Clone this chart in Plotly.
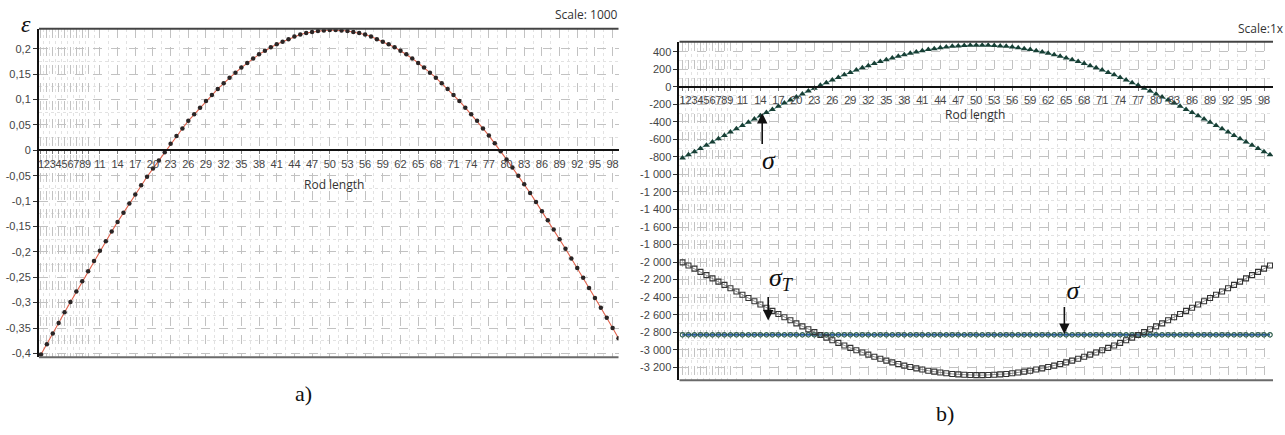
import plotly.graph_objects as go

# ---------------------------------------------------------------- data
rod_points = list(range(1, 100))

x_tick_labels = ["1", "2", "3", "4", "5", "6", "7", "8", "9", "11", "14", "17", "20",
                 "23", "26", "29", "32", "35", "38", "41", "44", "47", "50", "53", "56",
                 "59", "62", "65", "68", "71", "74", "77", "80", "83", "86", "89", "92",
                 "95", "98"]
x_tick_values = [int(t) for t in x_tick_labels]

# strain along the rod (scale 1000)
strain = [
    -0.402, -0.382, -0.361, -0.340, -0.319, -0.299, -0.278, -0.258, -0.238, -0.218,
    -0.198, -0.179, -0.160, -0.141, -0.123, -0.105, -0.087, -0.069, -0.052, -0.036,
    -0.020, -0.004, 0.013, 0.028, 0.043, 0.058, 0.071, 0.084, 0.097, 0.109,
    0.121, 0.132, 0.143, 0.153, 0.163, 0.172, 0.181, 0.189, 0.196, 0.203,
    0.209, 0.214, 0.219, 0.224, 0.228, 0.231, 0.233, 0.235, 0.236, 0.237,
    0.237, 0.236, 0.235, 0.233, 0.231, 0.228, 0.224, 0.219, 0.214, 0.209,
    0.203, 0.196, 0.189, 0.181, 0.172, 0.163, 0.153, 0.143, 0.132, 0.121,
    0.109, 0.097, 0.084, 0.071, 0.058, 0.043, 0.029, 0.014, -0.002, -0.018,
    -0.034, -0.050, -0.067, -0.084, -0.102, -0.120, -0.138, -0.156, -0.175, -0.194,
    -0.213, -0.232, -0.251, -0.271, -0.291, -0.310, -0.330, -0.350, -0.370,
]
strain_tick_values = [0.2, 0.15, 0.1, 0.05, 0, -0.05, -0.1, -0.15, -0.2, -0.25, -0.3, -0.35, -0.4]
strain_tick_labels = ["0,2", "0,15", "0,1", "0,05", "0", "-0,05", "-0,1", "-0,15", "-0,2",
                      "-0,25", "-0,3", "-0,35", "-0,4"]

# stress sigma
stress = [
    -812, -776, -740, -703, -666, -629, -592, -555, -517, -480,
    -442, -405, -368, -331, -294, -258, -222, -186, -151, -116,
    -82, -49, -16, 16, 47, 77, 107, 136, 164, 191,
    216, 241, 265, 287, 309, 329, 348, 366, 382, 398,
    411, 424, 435, 445, 454, 461, 466, 471, 473, 475,
    475, 473, 471, 466, 461, 454, 445, 435, 424, 411,
    398, 382, 366, 348, 329, 309, 287, 265, 241, 216,
    191, 164, 136, 107, 77, 47, 16, -16, -49, -82,
    -116, -151, -186, -222, -258, -294, -331, -368, -405, -442,
    -480, -517, -555, -592, -629, -666, -703, -740, -776,
]

# temperature stress sigma_T
stress_t = [
    -2003, -2039, -2075, -2112, -2149, -2186, -2223, -2260, -2298, -2335,
    -2373, -2410, -2447, -2484, -2521, -2557, -2593, -2629, -2664, -2699,
    -2733, -2766, -2799, -2831, -2862, -2892, -2922, -2951, -2979, -3006,
    -3031, -3056, -3080, -3102, -3124, -3144, -3163, -3181, -3197, -3213,
    -3226, -3239, -3250, -3260, -3269, -3276, -3281, -3286, -3288, -3290,
    -3290, -3288, -3286, -3281, -3276, -3269, -3260, -3250, -3239, -3226,
    -3213, -3197, -3181, -3163, -3144, -3124, -3102, -3080, -3056, -3031,
    -3006, -2979, -2951, -2922, -2892, -2862, -2831, -2799, -2766, -2733,
    -2699, -2664, -2629, -2593, -2557, -2521, -2484, -2447, -2410, -2373,
    -2335, -2298, -2260, -2223, -2186, -2149, -2112, -2075, -2039,
]

# constant stress level
stress_level = -2830
stress_level_series = [stress_level] * len(rod_points)

stress_tick_values = [400, 200, 0, -200, -400, -600, -800, -1000, -1200, -1400, -1600,
                      -1800, -2000, -2200, -2400, -2600, -2800, -3000, -3200]
stress_tick_labels = ["400", "200", "0", "-200", "-400", "-600", "-800", "-1 000", "-1 200",
                      "-1 400", "-1 600", "-1 800", "-2 000", "-2 200", "-2 400", "-2 600",
                      "-2 800", "-3 000", "-3 200"]

# ---------------------------------------------------------------- layout helpers
W, H = 1285, 435


def px(x):
    return x / W


def py(y):
    return 1 - y / H


def midpoints(vals):
    s = sorted(vals)
    return [(a + b) / 2 for a, b in zip(s[:-1], s[1:])]


def zero_position(domain, rng):
    return domain[0] + (0 - rng[0]) / (rng[1] - rng[0]) * (domain[1] - domain[0])


TICK_FONT = dict(family="Liberation Sans, Arial, sans-serif", size=11, color="#444")
LABEL_FONT = dict(family="Open Sans, Segoe UI, sans-serif", size=12, color="#333")
SERIF = "Liberation Serif, Times New Roman, serif"
GRID = "#c2c2c2"
MINOR_GRID = "#e2e2e2"

left_dom_x = [px(38), px(618)]
left_dom_y = [py(359), py(29)]
left_rng_x = [0.66, 99.0]
left_rng_y = [-0.4078, 0.2392]

right_dom_x = [px(679), px(1273)]
right_dom_y = [py(382), py(42)]
right_rng_x = [0.5, 99.5]
right_rng_y = [-3348, 513]

fig = go.Figure()

# strain curve
fig.add_trace(go.Scatter(
    x=rod_points, y=strain, xaxis="x", yaxis="y", mode="lines+markers",
    line=dict(color="#e0604a", width=1.1),
    marker=dict(symbol="circle", size=4.5, color="#2b2525"),
    showlegend=False, hoverinfo="skip",
))

# constant stress level
fig.add_trace(go.Scatter(
    x=rod_points, y=stress_level_series, xaxis="x2", yaxis="y2", mode="lines+markers",
    line=dict(color="#2a5caa", width=2),
    marker=dict(symbol="circle-open", size=4.5, color="#2f5e4c", line=dict(width=1.2)),
    showlegend=False, hoverinfo="skip",
))

# temperature stress
fig.add_trace(go.Scatter(
    x=rod_points, y=stress_t, xaxis="x2", yaxis="y2", mode="lines+markers",
    line=dict(color="#777", width=0.8),
    marker=dict(symbol="square-open", size=5, color="#333", line=dict(width=1.1)),
    showlegend=False, hoverinfo="skip",
))

# stress
fig.add_trace(go.Scatter(
    x=rod_points, y=stress, xaxis="x2", yaxis="y2", mode="lines+markers",
    line=dict(color="#5a9a90", width=1),
    marker=dict(symbol="triangle-up", size=6, color="#173f35"),
    showlegend=False, hoverinfo="skip",
))


def x_axis(domain, rng, ypos):
    return dict(
        domain=domain, range=rng, anchor="free", position=ypos,
        tickmode="array", tickvals=x_tick_values, ticktext=x_tick_labels,
        tickfont=TICK_FONT, tickangle=0, ticks="outside", ticklen=3, tickcolor="#777",
        showline=True, linecolor="#111", linewidth=2,
        showgrid=True, gridcolor=GRID, griddash="dash", gridwidth=1,
        minor=dict(tickvals=midpoints(x_tick_values), showgrid=True,
                   gridcolor=MINOR_GRID, griddash="dot", ticks=""),
        zeroline=False, fixedrange=True,
    )


def y_axis(domain, rng, vals, labels, anchor):
    return dict(
        domain=domain, range=rng, anchor=anchor,
        tickmode="array", tickvals=vals, ticktext=labels,
        tickfont=TICK_FONT, ticks="outside", ticklen=4, tickcolor="#333",
        showline=True, linecolor="#111", linewidth=2,
        showgrid=True, gridcolor=GRID, griddash="dash", gridwidth=1,
        minor=dict(tickvals=midpoints(vals), showgrid=True,
                   gridcolor=MINOR_GRID, griddash="dot", ticks=""),
        zeroline=False, fixedrange=True,
    )


fig.update_layout(
    width=W, height=H, margin=dict(l=0, r=0, t=0, b=0),
    paper_bgcolor="white", plot_bgcolor="white",
    xaxis=x_axis(left_dom_x, left_rng_x, zero_position(left_dom_y, left_rng_y)),
    yaxis=y_axis(left_dom_y, left_rng_y, strain_tick_values, strain_tick_labels, "x"),
    xaxis2=x_axis(right_dom_x, right_rng_x, zero_position(right_dom_y, right_rng_y)),
    yaxis2=y_axis(right_dom_y, right_rng_y, stress_tick_values, stress_tick_labels, "x2"),
)

# top and bottom frame lines of both plot areas
for xr, yr in (("x domain", "y domain"), ("x2 domain", "y2 domain")):
    fig.add_shape(type="line", xref=xr, yref=yr, x0=0, x1=1, y0=1, y1=1,
                  line=dict(color="#444", width=2))
    fig.add_shape(type="line", xref=xr, yref=yr, x0=0, x1=1, y0=0, y1=0,
                  line=dict(color="#6a6a6a", width=2))

ann = []


def text(x, y, s, font, xanchor="center"):
    ann.append(dict(x=px(x), y=py(y), xref="paper", yref="paper", text=s,
                    showarrow=False, font=font, xanchor=xanchor, yanchor="middle"))


# left panel texts
text(25, 24, "<i>ε</i>", dict(family=SERIF, size=24, color="#111"))
text(619, 15, "Scale: 1000", LABEL_FONT, xanchor="right")
text(333, 185, "Rod length", LABEL_FONT)
text(303, 395, "a)", dict(family=SERIF, size=22, color="#111"))

# right panel texts
text(1236, 29, "Scale:1x", LABEL_FONT, xanchor="left")
text(975, 115, "Rod length", LABEL_FONT)
text(945, 415, "b)", dict(family=SERIF, size=22, color="#111"))

sigma_font = dict(family=SERIF, size=26, color="#111")
NB = "&nbsp;"


def labelled_arrow(x, y, label, ay):
    # the label sits at the tail of a vertical arrow pointing at (x, y)
    ann.append(dict(x=x, y=y, xref="x2", yref="y2", text=label, font=sigma_font,
                    showarrow=True, ax=0, ay=ay, arrowhead=2, arrowsize=1.3,
                    arrowwidth=1.6, arrowcolor="#111", standoff=0))


labelled_arrow(14.3, -300, NB * 2 + "<i>σ</i>", 47)                    # sigma, from below
labelled_arrow(15.3, -2666, NB * 4 + "<i>σ<sub>T</sub></i>", -41)       # sigma_T, from above
labelled_arrow(64.7, -2820, NB * 3 + "<i>σ</i>", -43)                  # constant level, from above

fig.update_layout(annotations=ann)

fig.write_html("out.html")
